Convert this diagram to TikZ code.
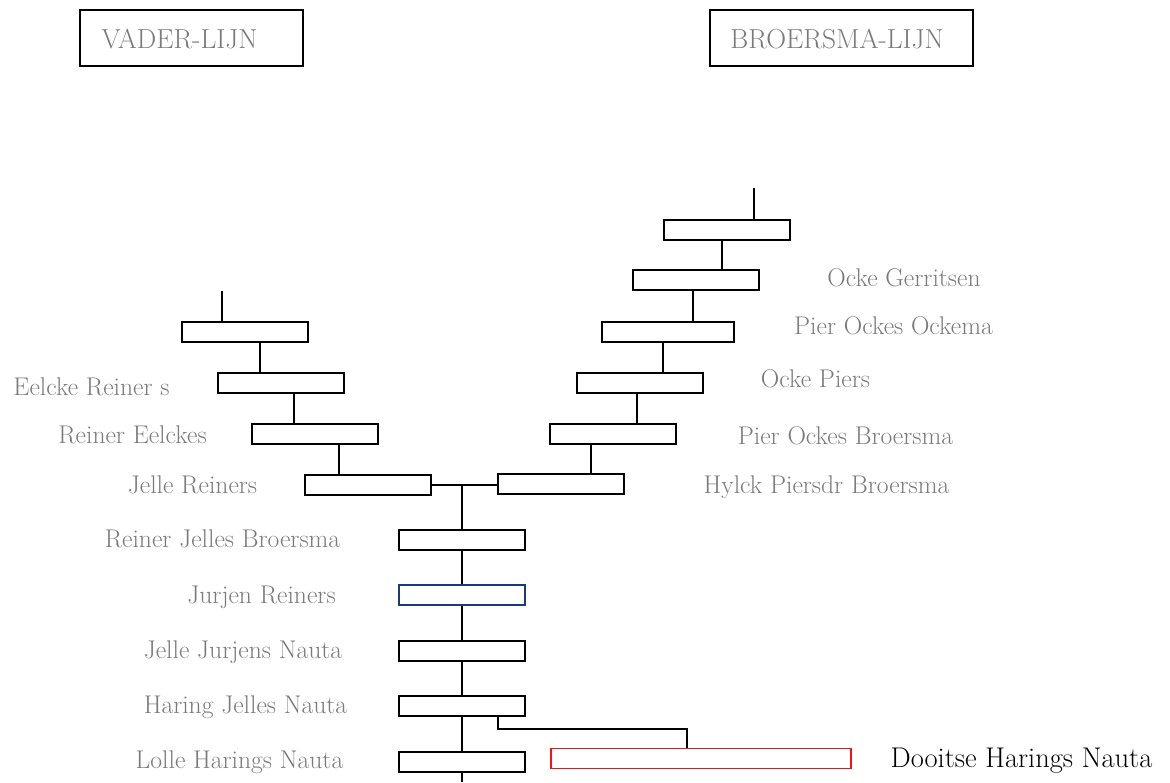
\documentclass[tikz,border=0pt]{standalone}
\usepackage{fontspec}
\definecolor{lblgray}{HTML}{7A7A7A}
\definecolor{boxblue}{HTML}{1B3A7E}
\definecolor{boxred}{HTML}{FF1010}
\begin{document}
\begin{tikzpicture}[x=1pt,y=-1pt,
  font=\fontsize{25.6}{30}\selectfont,
  pbox/.style={draw=black,line width=2pt,rectangle,inner sep=0pt,minimum width=126pt,minimum height=20pt},
  titlebox/.style={draw=black,line width=2pt,rectangle,inner sep=0pt,minimum height=56pt},
  lbl/.style={text=lblgray,anchor=base,inner sep=0pt},
  ttl/.style={lbl,font=\fontsize{27.5}{32}\selectfont},
  conn/.style={draw=black,line width=2pt}]
\useasboundingbox (0,0) rectangle (1170,782);
% title boxes
\node[titlebox,minimum width=223pt] (t1) at (191.5,38) {};
\node[titlebox,minimum width=263pt] (t2) at (841.5,38) {};
\node[ttl] (t1txt) at (179.5,48.5) {VADER-LIJN};
\node[ttl] (t2txt) at (837,48) {BROERSMA-LIJN};
% left line
\node[pbox] (L1) at (245,331.5) {};
\node[pbox] (L2) at (280.5,382.5) {};
\node[pbox] (L3) at (314.5,433.5) {};
\node[pbox] (L4) at (368,484.5) {};
% right line
\node[pbox] (R1) at (726.5,229.5) {};
\node[pbox] (R2) at (696,280) {};
\node[pbox,minimum width=132pt] (R3) at (668,331.5) {};
\node[pbox] (R4) at (640,382.5) {};
\node[pbox] (R5) at (613,433.5) {};
\node[pbox] (R6) at (561,484) {};
% central line
\node[pbox] (C1) at (462,540) {};
\node[pbox,draw=boxblue] (C2) at (462,595) {};
\node[pbox] (C3) at (462,650.5) {};
\node[pbox] (C4) at (462,706) {};
\node[pbox] (C5) at (462,761.5) {};
\node[pbox,draw=boxred,line width=1.7pt,minimum width=300pt] (RD) at (701,758.5) {};
% coordinates
\coordinate (ltop) at (222,291);
\coordinate (rtop) at (754,188);
\coordinate (cbot) at (462,782);
\coordinate (brk) at (687,729);
% connectors left
\draw[conn] (ltop) -- (ltop |- L1.north);
\draw[conn] ([xshift=15pt]L1.south) -- ([xshift=15pt]L1.south |- L2.north);
\draw[conn] ([xshift=13.5pt]L2.south) -- ([xshift=13.5pt]L2.south |- L3.north);
\draw[conn] ([xshift=24.5pt]L3.south) -- ([xshift=24.5pt]L3.south |- L4.north);
% connectors right
\draw[conn] (rtop) -- (rtop |- R1.north);
\draw[conn] ([xshift=-4.5pt]R1.south) -- ([xshift=-4.5pt]R1.south |- R2.north);
\draw[conn] ([xshift=-3pt]R2.south) -- ([xshift=-3pt]R2.south |- R3.north);
\draw[conn] ([xshift=-5pt]R3.south) -- ([xshift=-5pt]R3.south |- R4.north);
\draw[conn] ([xshift=-3pt]R4.south) -- ([xshift=-3pt]R4.south |- R5.north);
\draw[conn] ([xshift=-22pt]R5.south) -- ([xshift=-22pt]R5.south |- R6.north);
% junction
\draw[conn] ([yshift=-0.5pt]L4.east) -- ([yshift=-0.5pt]L4.east -| R6.west);
\draw[conn] ([yshift=-0.5pt]L4.east -| C1.north) -- (C1.north);
% central chain
\draw[conn] (C1.south) -- (C2.north);
\draw[conn] (C2.south) -- (C3.north);
\draw[conn] (C3.south) -- (C4.north);
\draw[conn] (C4.south) -- (C5.north);
\draw[conn] (C5.south) -- (cbot);
\draw[conn] ([xshift=36pt]C4.south) |- (brk) -- (brk |- RD.north);
% labels
\node[lbl] (n1) at (904,286) {Ocke Gerritsen};
\node[lbl] (n2) at (893.5,334) {Pier Ockes Ockema};
\node[lbl] (n3) at (815.5,387) {Ocke Piers};
\node[lbl] (n4) at (845.5,444) {Pier Ockes Broersma};
\node[lbl] (n5) at (826.5,493) {Hylck Piersdr Broersma};
\node[lbl] (m1) at (91.5,395) {Eelcke Reiner s};
\node[lbl] (m2) at (132.5,443) {Reiner Eelckes};
\node[lbl] (m3) at (192.5,493) {Jelle Reiners};
\node[lbl] (c1) at (222.5,547) {Reiner Jelles Broersma};
\node[lbl] (c2) at (261.5,603) {Jurjen Reiners};
\node[lbl] (c3) at (243,658) {Jelle Jurjens Nauta};
\node[lbl] (c4) at (245.5,713) {Haring Jelles Nauta};
\node[lbl] (c5) at (239.5,768) {Lolle Harings Nauta};
\node[lbl,text=black,font=\fontsize{28.5}{33}\selectfont] (d1) at (1021.5,767) {Dooitse Harings Nauta};
\end{tikzpicture}
\end{document}
